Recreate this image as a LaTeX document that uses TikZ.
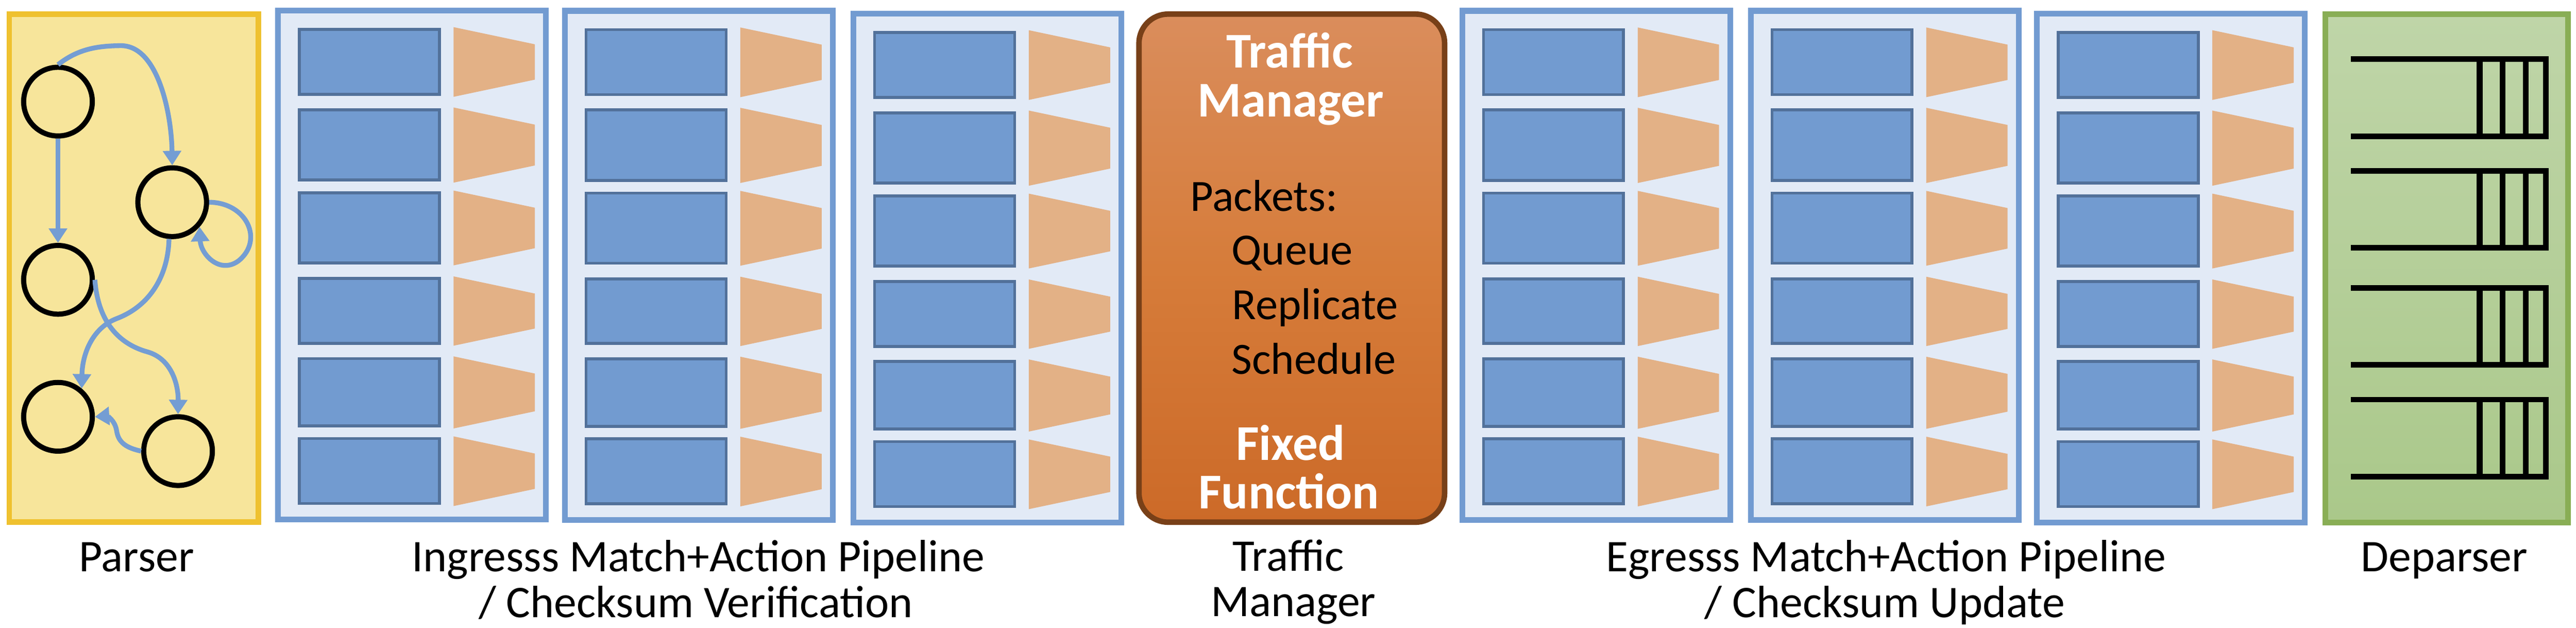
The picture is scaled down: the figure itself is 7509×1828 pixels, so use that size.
\documentclass[tikz,border=0pt]{standalone}
\usepackage{fontspec}
\setmainfont{Carlito}
\usetikzlibrary{arrows.meta}
\definecolor{stageborder}{RGB}{114,155,209}
\definecolor{stagefill}{RGB}{226,234,246}
\definecolor{tablefill}{RGB}{114,155,208}
\definecolor{tableborder}{RGB}{82,113,154}
\definecolor{actfill}{RGB}{227,177,134}
\definecolor{parserfill}{RGB}{247,229,155}
\definecolor{parserborder}{RGB}{239,193,47}
\definecolor{edgeblue}{RGB}{116,157,211}
\definecolor{tmborder}{RGB}{120,64,24}
\definecolor{tmtop}{RGB}{218,141,92}
\definecolor{tmmid}{RGB}{214,124,58}
\definecolor{tmbot}{RGB}{204,106,40}
\definecolor{depborder}{RGB}{137,174,85}
\definecolor{deptop}{RGB}{191,213,168}
\definecolor{depbot}{RGB}{170,200,138}
\tikzset{
  lab/.style={anchor=base, inner sep=0pt, font=\fontsize{37.5}{45}\selectfont},
  tmhead/.style={anchor=base, inner sep=0pt, text=white, font=\fontsize{41.5}{50}\selectfont\bfseries},
  tmtext/.style={anchor=base west, inner sep=0pt, font=\fontsize{37}{45}\selectfont},
  state/.style={circle, draw=black, line width=0.15cm, minimum size=2cm, inner sep=0pt},
  pedge/.style={draw=edgeblue, line width=0.14cm, -{Triangle[width=0.52cm,length=0.42cm]}},
  stageframe/.style={fill=stagefill, draw=stageborder, line width=0.17cm},
  tablebox/.style={fill=tablefill, draw=tableborder, line width=0.087cm},
  queueline/.style={draw=black, line width=0.16cm},
}
\newcommand\mastage[2]{%
  \filldraw[stageframe] (#1+8.5,#2+8.5) rectangle (#1+789.5,#2+1491.5);
  \foreach \rt/\rb in {59/257, 293/507, 535/748, 785/982, 1018/1223, 1251/1449} {
    \filldraw[tablebox] (#1+70.35,#2+\rt+4.35) rectangle (#1+478.65,#2+\rb-4.35);
    \fill[actfill] (#1+520,#2+\rt-2) -- (#1+757,#2+\rt+48) -- (#1+757,#2+\rb-47) -- (#1+520,#2+\rb+3) -- cycle;
  }%
}
\newcommand\depqueue[2]{%
  \draw[queueline, line join=miter] (6853,#1) -- (7421,#1) -- (7421,#2) -- (6853,#2);
  \foreach \bx in {7228,7295,7362} {\draw[queueline, line width=0.17cm] (\bx,#1) -- (\bx,#2);}
}
\begin{document}
\begin{tikzpicture}[x=0.01cm, y=-0.01cm]
\useasboundingbox (0,0) rectangle (7509,1828);
\fill[white] (0,0) rectangle (7509,1828);

% Parser
\filldraw[fill=parserfill, draw=parserborder, line width=0.16cm] (27,41) rectangle (753,1521);
\node[state] (c1) at (169,296) {};
\node[state] (c2) at (502,589) {};
\node[state] (c3) at (169,815) {};
\node[state] (c4) at (169,1214) {};
\node[state] (c5) at (519,1314) {};
\draw[pedge] (c1.south) -- (c3.north);
\draw[pedge] (c1.north) .. controls (230,140) and (290,134) .. (350,133) .. controls (460,130) and (500,330) .. (c2.north);
\draw[pedge] (c2.east) .. controls (720,590) and (770,700) .. (695,760) .. controls (640,800) and (585,740) .. (c2.-42);
\draw[pedge] (c2.-95) .. controls (490,800) and (440,890) .. (340,928) .. controls (270,955) and (240,1030) .. (c4.50);
\draw[pedge] (c3.east) .. controls (285,930) and (340,1000) .. (430,1025) .. controls (500,1045) and (520,1120) .. (c5.north);
\draw[pedge] (c5.west) .. controls (370,1305) and (345,1290) .. (340,1255) .. controls (335,1222) and (310,1212) .. (c4.east);

% Ingress stages
\mastage{802}{22}
\mastage{1638}{23}
\mastage{2479}{31}

% Traffic manager
\draw[draw=tmborder, line width=0.16cm, rounded corners=0.85cm, top color=tmtop, bottom color=tmbot, middle color=tmmid] (3320,41) rectangle (4211,1521);
\node[tmhead] (tm1) at (3759,198) {Traffic};
\node[tmhead] (tm2) at (3762,340) {Manager};
\node[tmtext] (tm3) at (3469,615) {Packets:};
\node[tmtext] (tm4) at (3589,771) {Queue};
\node[tmtext] (tm5) at (3591,930) {Replicate};
\node[tmtext] (tm6) at (3589,1090) {Schedule};
\node[tmhead] (tm7) at (3762,1340) {Fixed};
\node[tmhead] (tm8) at (3757,1482) {Function};

% Egress stages
\mastage{4254}{23}
\mastage{5095}{23}
\mastage{5929}{31}

% Deparser
\draw[draw=depborder, line width=0.16cm, top color=deptop, bottom color=depbot] (6778,41) rectangle (7486,1522);
\depqueue{172}{397}
\depqueue{498}{722}
\depqueue{839}{1063}
\depqueue{1164}{1388}

% Labels
\node[lab] (lparser) at (398,1664) {Parser};
\node[lab] (ling1) at (2036,1665) {Ingresss Match+Action Pipeline};
\node[lab] (ling2) at (2028,1799) {/ Checksum Verification};
\node[lab] (ltm1) at (3755,1663) {Traffic};
\node[lab] (ltm2) at (3770,1795) {Manager};
\node[lab] (leg1) at (5498,1665) {Egresss Match+Action Pipeline};
\node[lab] (leg2) at (5494,1799) {/ Checksum Update};
\node[lab] (ldep) at (7125,1665) {Deparser};
\end{tikzpicture}
\end{document}
